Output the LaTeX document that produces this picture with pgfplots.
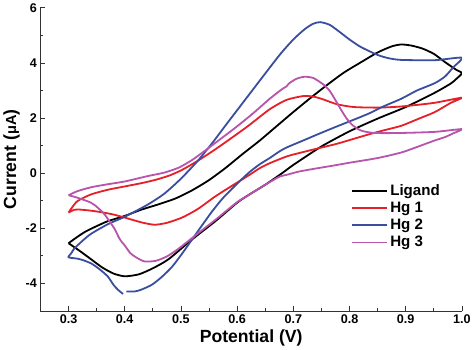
\documentclass[border=0pt]{standalone}
\usepackage{fontspec}
\setmainfont{Liberation Sans}
\usepackage{pgfplots}
\pgfplotsset{compat=1.18}
\definecolor{cred}{RGB}{230,32,40}
\definecolor{cblue}{RGB}{58,78,160}
\definecolor{cpurp}{RGB}{184,84,172}
\begin{document}
\begin{tikzpicture}
\begin{axis}[
  scale only axis, width=417bp, height=300bp,
  xmin=0.25, xmax=1.0, ymin=-5, ymax=6,
  axis x line*=bottom, axis y line*=left,
  axis line style={line width=0.9pt, black!80},
  xtick={0.3,0.4,0.5,0.6,0.7,0.8,0.9,1.0},
  ytick={-4,-2,0,2,4,6},
  minor x tick num=1, minor y tick num=1,
  tick align=inside,
  major tick length=5bp, minor tick length=3bp,
  tick style={line width=0.8pt, black!80},
  /pgf/number format/assume math mode=true,
  xticklabel style={/pgf/number format/.cd, fixed, fixed zerofill, precision=1},
  yticklabel style={/pgf/number format/.cd, fixed, precision=0},
  tick label style={font=\bfseries\fontsize{12.5}{13}\selectfont},
  xlabel={Potential (V)},
  ylabel={Current ({\fontsize{14.5}{14.5}\selectfont μA})},
  label style={font=\bfseries\fontsize{17.5}{18}\selectfont},
  xlabel style={yshift=1bp},
  ylabel style={yshift=-1bp},
  legend style={at={(0.96,0.43)}, anchor=north east, draw=none, fill=none,
    font=\bfseries\fontsize{15}{16}\selectfont, row sep=1bp},
  legend cell align=left,
  legend image code/.code={\draw[#1, line width=1.8pt] (0bp,0bp) -- (35bp,0bp);},
  every axis plot/.append style={line width=1.8pt, smooth, tension=0.4},
]
% Ligand
\addplot[black] coordinates {
(0.300,-2.54)(0.315,-2.32)(0.330,-2.12)(0.350,-1.92)(0.370,-1.74)(0.400,-1.55)
(0.430,-1.32)(0.460,-1.13)(0.490,-0.92)(0.520,-0.62)(0.550,-0.25)(0.580,0.20)
(0.610,0.70)(0.640,1.18)(0.670,1.70)(0.700,2.22)(0.730,2.72)(0.760,3.20)
(0.790,3.65)(0.820,4.02)(0.850,4.38)(0.875,4.60)(0.892,4.67)(0.910,4.63)
(0.930,4.52)(0.950,4.33)(0.970,4.03)(0.990,3.75)(1.000,3.63)
(0.990,3.42)(0.980,3.25)(0.950,2.90)(0.900,2.40)(0.850,1.98)(0.800,1.52)
(0.750,0.97)(0.700,0.30)(0.680,0.00)(0.650,-0.42)(0.622,-0.77)(0.600,-1.07)
(0.562,-1.73)(0.520,-2.40)(0.478,-3.12)(0.450,-3.45)(0.425,-3.67)(0.400,-3.74)
(0.380,-3.64)(0.360,-3.42)(0.340,-3.12)(0.320,-2.82)(0.300,-2.54)
};
\addlegendentry{Ligand}
% Hg 1
\addplot[cred] coordinates {
(0.300,-1.43)(0.305,-1.28)(0.316,-1.01)(0.340,-0.77)(0.370,-0.60)(0.400,-0.48)
(0.430,-0.36)(0.455,-0.24)(0.480,-0.08)(0.502,0.12)(0.530,0.45)(0.560,0.85)
(0.586,1.22)(0.620,1.72)(0.658,2.32)(0.688,2.66)(0.718,2.80)(0.735,2.78)
(0.750,2.70)(0.778,2.50)(0.808,2.40)(0.850,2.38)(0.892,2.42)(0.950,2.55)(1.000,2.74)
(0.980,2.55)(0.952,2.22)(0.920,1.95)(0.892,1.72)(0.860,1.55)(0.838,1.43)
(0.808,1.25)(0.778,1.07)(0.748,0.92)(0.718,0.77)(0.690,0.62)(0.660,0.38)
(0.640,0.18)(0.622,-0.06)(0.600,-0.34)(0.562,-0.83)(0.530,-1.30)(0.502,-1.61)
(0.475,-1.80)(0.454,-1.87)(0.435,-1.81)(0.415,-1.70)(0.400,-1.61)(0.380,-1.50)
(0.360,-1.42)(0.340,-1.36)(0.320,-1.32)(0.310,-1.33)(0.300,-1.43)
};
\addlegendentry{Hg 1}
% Hg 2
\addplot[cblue] coordinates {
(0.397,-4.38)(0.388,-4.23)(0.380,-4.05)(0.370,-3.75)(0.355,-3.48)(0.340,-3.27)
(0.325,-3.15)(0.316,-3.10)(0.300,-3.05)
(0.305,-2.90)(0.310,-2.74)(0.325,-2.45)(0.340,-2.20)(0.370,-1.85)(0.400,-1.58)
(0.440,-1.15)(0.470,-0.75)(0.500,-0.20)(0.530,0.45)(0.556,1.10)(0.580,1.75)
(0.610,2.55)(0.640,3.35)(0.676,4.30)(0.700,4.85)(0.720,5.22)(0.735,5.42)
(0.748,5.48)(0.765,5.38)(0.784,5.10)(0.800,4.85)(0.820,4.58)(0.850,4.29)
(0.870,4.17)(0.892,4.11)(0.952,4.10)(1.000,4.19)
(0.985,3.85)(0.970,3.51)(0.952,3.27)(0.920,3.00)(0.892,2.70)(0.860,2.42)
(0.835,2.17)(0.805,1.92)(0.778,1.70)(0.748,1.45)(0.718,1.19)(0.690,0.95)
(0.676,0.80)(0.658,0.55)(0.640,0.32)(0.622,0.04)(0.600,-0.38)(0.574,-0.92)
(0.555,-1.40)(0.538,-1.88)(0.520,-2.40)(0.502,-2.92)(0.484,-3.40)(0.465,-3.78)
(0.448,-4.05)(0.430,-4.22)(0.418,-4.29)(0.403,-4.29)
};
\addlegendentry{Hg 2}
% Hg 3
\addplot[cpurp] coordinates {
(0.300,-0.80)(0.316,-0.65)(0.340,-0.51)(0.370,-0.40)(0.400,-0.30)(0.442,-0.10)
(0.470,0.02)(0.496,0.20)(0.520,0.48)(0.545,0.85)(0.571,1.25)(0.600,1.70)
(0.630,2.20)(0.658,2.70)(0.680,3.05)(0.688,3.15)(0.692,3.25)(0.705,3.42)
(0.720,3.50)(0.736,3.45)(0.754,3.21)(0.765,2.98)(0.775,2.65)(0.785,2.30)
(0.795,1.98)(0.805,1.75)(0.820,1.55)(0.844,1.46)(0.892,1.46)(0.952,1.50)(1.000,1.60)
(0.985,1.45)(0.970,1.31)(0.952,1.19)(0.920,0.95)(0.892,0.75)(0.850,0.55)
(0.800,0.38)(0.778,0.30)(0.740,0.17)(0.710,0.06)(0.690,-0.05)(0.676,-0.12)
(0.660,-0.30)(0.640,-0.54)(0.620,-0.80)(0.600,-1.05)(0.562,-1.68)(0.520,-2.35)
(0.495,-2.75)(0.475,-3.02)(0.455,-3.18)(0.435,-3.20)(0.420,-3.05)(0.410,-2.90)
(0.400,-2.62)(0.395,-2.50)(0.390,-2.35)(0.382,-2.02)(0.373,-1.75)(0.364,-1.49)
(0.352,-1.25)(0.340,-1.07)(0.316,-0.89)(0.300,-0.80)
};
\addlegendentry{Hg 3}
\end{axis}
\end{tikzpicture}
\end{document}
